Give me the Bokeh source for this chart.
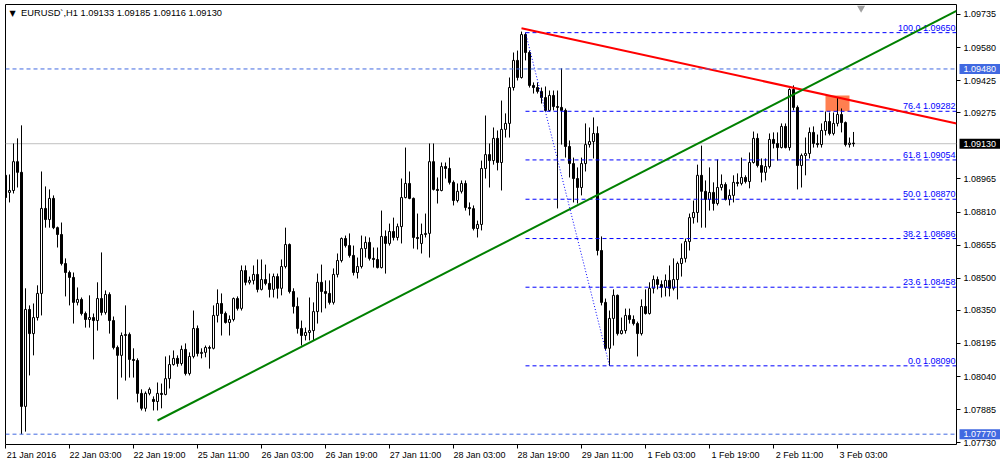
from bokeh.plotting import figure
from bokeh.models import (Range1d, FixedTicker, CustomJSTickFormatter, Label, ColumnDataSource,
                          Span, LinearAxis, GridBox, Plot)
from bokeh.core.properties import value
from bokeh.embed import file_html
from bokeh.resources import INLINE

# ---------------- data (EURUSD H1, bar index 0 = 21 Jan 2016 11:00) ----------------
opens = [
    1.08982, 1.08902, 1.08911, 1.09046, 1.08996, 1.07900, 1.08354, 1.08241, 1.08316, 1.08429,
    1.08827, 1.08775, 1.08874, 1.08737, 1.08705, 1.08569, 1.08527, 1.08504, 1.08387, 1.08401,
    1.08335, 1.08307, 1.08316, 1.08302, 1.08405, 1.08340, 1.08424, 1.08302, 1.08176, 1.08139,
    1.08232, 1.08237, 1.08120, 1.08115, 1.07961, 1.07891, 1.07961, 1.07933, 1.07923, 1.07961,
    1.07956, 1.08030, 1.08096, 1.08125, 1.08101, 1.08167, 1.08054, 1.08134, 1.08265, 1.08148,
    1.08153, 1.08176, 1.08172, 1.08326, 1.08382, 1.08335, 1.08293, 1.08307, 1.08405, 1.08359,
    1.08536, 1.08481, 1.08490, 1.08518, 1.08448, 1.08494, 1.08476, 1.08448, 1.08508, 1.08453,
    1.08555, 1.08658, 1.08438, 1.08368, 1.08265, 1.08232, 1.08246, 1.08255, 1.08344, 1.08481,
    1.08438, 1.08429, 1.08387, 1.08518, 1.08583, 1.08686, 1.08653, 1.08607, 1.08527, 1.08555,
    1.08639, 1.08668, 1.08593, 1.08588, 1.08550, 1.08696, 1.08663, 1.08719, 1.08691, 1.08742,
    1.08878, 1.08944, 1.08874, 1.08691, 1.08663, 1.08705, 1.08710, 1.09046, 1.08916, 1.08911,
    1.09023, 1.09014, 1.08949, 1.08864, 1.08907, 1.08944, 1.08831, 1.08826, 1.08733, 1.08752,
    1.09014, 1.09079, 1.09051, 1.09155, 1.09042, 1.09197, 1.09225, 1.09393, 1.09520, 1.09440,
    1.09641, 1.09557, 1.09403, 1.09393, 1.09375, 1.09346, 1.09286, 1.09356, 1.09304, 1.09300,
    1.09286, 1.09117, 1.09037, 1.08967, 1.08925, 1.09037, 1.09126, 1.09140, 1.09178, 1.08630,
    1.08387, 1.08172, 1.08312, 1.08420, 1.08241, 1.08255, 1.08326, 1.08307, 1.08288, 1.08241,
    1.08368, 1.08335, 1.08453, 1.08494, 1.08471, 1.08457, 1.08490, 1.08453, 1.08494, 1.08569,
    1.08593, 1.08672, 1.08784, 1.08808, 1.08982, 1.08907, 1.08869, 1.08902, 1.08850, 1.08925,
    1.08939, 1.08869, 1.08888, 1.08949, 1.08944, 1.08972, 1.08953, 1.09042, 1.09155, 1.09028,
    1.08996, 1.09023, 1.09150, 1.09131, 1.09112, 1.09211, 1.09112, 1.09384, 1.09300, 1.09028,
    1.09075, 1.09084, 1.09183, 1.09131, 1.09126, 1.09192, 1.09234, 1.09178, 1.09225, 1.09267,
    1.09229, 1.09126, 1.09133,
]
highs = [
    1.09028, 1.08986, 1.09131, 1.09155, 1.09216, 1.08453, 1.08373, 1.08382, 1.08467, 1.09000,
    1.08930, 1.08916, 1.08888, 1.08742, 1.08761, 1.08593, 1.08536, 1.08527, 1.08457, 1.08410,
    1.08344, 1.08420, 1.08335, 1.08481, 1.08621, 1.08443, 1.08434, 1.08321, 1.08185, 1.08246,
    1.08373, 1.08246, 1.08172, 1.08125, 1.07980, 1.07970, 1.07989, 1.07947, 1.08012, 1.08007,
    1.08134, 1.08139, 1.08162, 1.08139, 1.08185, 1.08195, 1.08153, 1.08349, 1.08279, 1.08172,
    1.08185, 1.08185, 1.08373, 1.08448, 1.08429, 1.08344, 1.08326, 1.08410, 1.08415, 1.08560,
    1.08560, 1.08508, 1.08560, 1.08588, 1.08588, 1.08564, 1.08522, 1.08522, 1.08522, 1.08588,
    1.08737, 1.08663, 1.08453, 1.08410, 1.08302, 1.08269, 1.08410, 1.08387, 1.08522, 1.08564,
    1.08490, 1.08490, 1.08546, 1.08616, 1.08691, 1.08700, 1.08710, 1.08653, 1.08597, 1.08700,
    1.08696, 1.08691, 1.08644, 1.08644, 1.08817, 1.08724, 1.08756, 1.08784, 1.08756, 1.08967,
    1.09112, 1.09000, 1.08878, 1.08803, 1.08756, 1.08803, 1.09131, 1.09131, 1.08972, 1.09042,
    1.09042, 1.09065, 1.08958, 1.08944, 1.08958, 1.08958, 1.08855, 1.08841, 1.08770, 1.09051,
    1.09262, 1.09131, 1.09206, 1.09192, 1.09332, 1.09272, 1.09440, 1.09557, 1.09566, 1.09655,
    1.09650, 1.09566, 1.09417, 1.09417, 1.09393, 1.09398, 1.09379, 1.09379, 1.09379, 1.09483,
    1.09295, 1.09145, 1.09065, 1.09019, 1.09065, 1.09225, 1.09206, 1.09253, 1.09211, 1.08696,
    1.08405, 1.08349, 1.08448, 1.08424, 1.08316, 1.08358, 1.08358, 1.08326, 1.08297, 1.08401,
    1.08448, 1.08481, 1.08513, 1.08508, 1.08490, 1.08518, 1.08560, 1.08593, 1.08578, 1.08663,
    1.08686, 1.08803, 1.08864, 1.09032, 1.09121, 1.08958, 1.09019, 1.08949, 1.09056, 1.08986,
    1.08949, 1.08916, 1.08982, 1.08991, 1.09065, 1.08982, 1.09089, 1.09187, 1.09178, 1.09061,
    1.09061, 1.09178, 1.09183, 1.09183, 1.09225, 1.09225, 1.09389, 1.09403, 1.09309, 1.09084,
    1.09159, 1.09206, 1.09211, 1.09173, 1.09225, 1.09281, 1.09276, 1.09276, 1.09346, 1.09295,
    1.09234, 1.09159, 1.09185,
]
lows = [
    1.08874, 1.08855, 1.08897, 1.08925, 1.07770, 1.07782, 1.08045, 1.08139, 1.08302, 1.08326,
    1.08737, 1.08737, 1.08730, 1.08644, 1.08560, 1.08415, 1.08373, 1.08288, 1.08373, 1.08326,
    1.08269, 1.08269, 1.08120, 1.08255, 1.08326, 1.08330, 1.08241, 1.08167, 1.07933, 1.08035,
    1.08021, 1.08035, 1.08035, 1.07919, 1.07881, 1.07876, 1.07952, 1.07881, 1.07881, 1.07891,
    1.07952, 1.07984, 1.08091, 1.08086, 1.08091, 1.08045, 1.08045, 1.08125, 1.08134, 1.08125,
    1.08130, 1.08077, 1.08167, 1.08293, 1.08232, 1.08288, 1.08232, 1.08298, 1.08349, 1.08349,
    1.08467, 1.08471, 1.08471, 1.08434, 1.08443, 1.08467, 1.08410, 1.08410, 1.08405, 1.08420,
    1.08546, 1.08429, 1.08335, 1.08241, 1.08185, 1.08209, 1.08209, 1.08209, 1.08288, 1.08340,
    1.08359, 1.08377, 1.08377, 1.08504, 1.08574, 1.08644, 1.08597, 1.08513, 1.08499, 1.08546,
    1.08597, 1.08583, 1.08550, 1.08546, 1.08546, 1.08522, 1.08653, 1.08677, 1.08677, 1.08663,
    1.08874, 1.08870, 1.08639, 1.08635, 1.08616, 1.08691, 1.08597, 1.08911, 1.08850, 1.08907,
    1.08967, 1.08939, 1.08841, 1.08855, 1.08897, 1.08817, 1.08794, 1.08724, 1.08691, 1.08724,
    1.08967, 1.08925, 1.09032, 1.09005, 1.08911, 1.09159, 1.09159, 1.09379, 1.09426, 1.09435,
    1.09520, 1.09393, 1.09365, 1.09365, 1.09318, 1.09281, 1.09281, 1.09286, 1.08827, 1.09126,
    1.09065, 1.08972, 1.08855, 1.08850, 1.08888, 1.09000, 1.09112, 1.09061, 1.08607, 1.08373,
    1.08162, 1.08090, 1.08185, 1.08232, 1.08237, 1.08241, 1.08288, 1.08279, 1.08134, 1.08232,
    1.08330, 1.08330, 1.08429, 1.08448, 1.08410, 1.08415, 1.08415, 1.08443, 1.08401, 1.08508,
    1.08574, 1.08630, 1.08756, 1.08761, 1.08737, 1.08737, 1.08817, 1.08817, 1.08841, 1.08911,
    1.08864, 1.08841, 1.08855, 1.08930, 1.08935, 1.08944, 1.08921, 1.09037, 1.09019, 1.08949,
    1.08958, 1.09014, 1.09108, 1.09051, 1.09108, 1.09108, 1.09098, 1.09286, 1.08916, 1.08925,
    1.08982, 1.09061, 1.09112, 1.09112, 1.09112, 1.09169, 1.09169, 1.09169, 1.09211, 1.09183,
    1.09117, 1.09112, 1.09116,
]
closes = [
    1.08878, 1.08911, 1.09046, 1.08996, 1.07900, 1.08354, 1.08241, 1.08316, 1.08429, 1.08827,
    1.08775, 1.08874, 1.08737, 1.08705, 1.08569, 1.08527, 1.08504, 1.08387, 1.08401, 1.08335,
    1.08307, 1.08316, 1.08302, 1.08405, 1.08340, 1.08424, 1.08302, 1.08176, 1.08139, 1.08232,
    1.08237, 1.08120, 1.08115, 1.07961, 1.07891, 1.07961, 1.07980, 1.07923, 1.07961, 1.07956,
    1.08030, 1.08096, 1.08125, 1.08101, 1.08167, 1.08054, 1.08134, 1.08265, 1.08148, 1.08153,
    1.08176, 1.08172, 1.08326, 1.08382, 1.08335, 1.08293, 1.08307, 1.08405, 1.08359, 1.08536,
    1.08481, 1.08490, 1.08518, 1.08448, 1.08494, 1.08476, 1.08448, 1.08508, 1.08453, 1.08555,
    1.08658, 1.08438, 1.08368, 1.08265, 1.08232, 1.08246, 1.08255, 1.08344, 1.08481, 1.08438,
    1.08429, 1.08387, 1.08518, 1.08583, 1.08686, 1.08653, 1.08607, 1.08527, 1.08555, 1.08639,
    1.08668, 1.08593, 1.08588, 1.08550, 1.08696, 1.08663, 1.08719, 1.08691, 1.08742, 1.08878,
    1.08944, 1.08874, 1.08691, 1.08686, 1.08705, 1.08710, 1.09046, 1.08916, 1.08911, 1.09023,
    1.09014, 1.08949, 1.08864, 1.08907, 1.08944, 1.08831, 1.08826, 1.08733, 1.08752, 1.09014,
    1.09079, 1.09051, 1.09155, 1.09042, 1.09197, 1.09225, 1.09393, 1.09520, 1.09440, 1.09641,
    1.09557, 1.09403, 1.09393, 1.09375, 1.09346, 1.09286, 1.09356, 1.09304, 1.09300, 1.09286,
    1.09117, 1.09037, 1.08967, 1.08925, 1.09037, 1.09126, 1.09140, 1.09178, 1.08630, 1.08387,
    1.08172, 1.08312, 1.08420, 1.08241, 1.08255, 1.08326, 1.08307, 1.08288, 1.08241, 1.08368,
    1.08335, 1.08453, 1.08494, 1.08471, 1.08457, 1.08490, 1.08453, 1.08494, 1.08569, 1.08593,
    1.08672, 1.08784, 1.08808, 1.08982, 1.08907, 1.08869, 1.08902, 1.08850, 1.08925, 1.08939,
    1.08869, 1.08888, 1.08949, 1.08944, 1.08972, 1.08953, 1.09042, 1.09155, 1.09028, 1.08996,
    1.09023, 1.09150, 1.09131, 1.09112, 1.09211, 1.09112, 1.09384, 1.09300, 1.09028, 1.09075,
    1.09084, 1.09183, 1.09131, 1.09126, 1.09192, 1.09234, 1.09178, 1.09225, 1.09267, 1.09229,
    1.09126, 1.09133, 1.09130,
]

time_tick_bars = [0, 16, 32, 48, 64, 80, 96, 112, 128, 144, 160, 176, 192, 208]
time_tick_labels = ["21 Jan 2016", "22 Jan 03:00", "22 Jan 19:00", "25 Jan 11:00", "26 Jan 03:00",
                    "26 Jan 19:00", "27 Jan 11:00", "28 Jan 03:00", "28 Jan 19:00", "29 Jan 11:00",
                    "1 Feb 03:00", "1 Feb 19:00", "2 Feb 11:00", "3 Feb 03:00"]
price_ticks = [1.09735, 1.09580, 1.09425, 1.09275, 1.08965, 1.08810, 1.08655, 1.08500,
               1.08350, 1.08195, 1.08040, 1.07885, 1.07730]

bid_price = 1.09130
hline_prices = [1.09480, 1.07770]
red_trend_bars = [129, 197]
red_trend_prices = [1.09671, 1.09392]
green_trend_bars = [38, 197]
green_trend_prices = [1.07834, 1.09361]
fib_bars = [130, 151]
fib_prices = [1.09650, 1.08090]
fib_levels = [0.0, 23.6, 38.2, 50.0, 61.8, 76.4, 100.0]
rect_bars = [205, 211]
rect_prices = [1.09282, 1.09356]
header_text = "EURUSD`,H1  1.09133 1.09185 1.09116 1.09130"

box_prices = [hline_prices[0], hline_prices[1], bid_price]
box_colors = ["#4169E1", "#4169E1", "black"]

# can the coloured price boxes be laid over the price scale?
CAN_OVERLAY = "frame_align" in Plot.properties()

# ---------------- main chart ----------------
FW, FH = 951, 440
BL, BT, BR, BB = 5, 4, 44, 22
x_start = 0.0
x_end = x_start + FW / 4.0
y_lo, y_hi = 1.077217, 1.097818
yr = Range1d(y_lo, y_hi)

p = figure(frame_width=FW, frame_height=FH,
           x_range=Range1d(x_start, x_end), y_range=yr,
           output_backend="svg", toolbar_location=None, y_axis_location="right",
           min_border_left=BL, min_border_top=BT, min_border_right=BR, min_border_bottom=BB,
           background_fill_color="white", border_fill_color="white")
p.grid.visible = False
p.outline_line_color = "black"
p.outline_line_width = 1

FONT = "Liberation Sans"

# time axis: tick marks only
p.xaxis.ticker = FixedTicker(ticks=time_tick_bars)
p.xaxis.major_label_overrides = {b: "" for b in time_tick_bars}
p.xaxis.major_label_text_font_size = "0px"
p.xaxis.major_label_standoff = 0
p.xaxis.minor_tick_line_color = None
p.xaxis.major_tick_in = 0
p.xaxis.major_tick_out = 4
p.xaxis.axis_line_color = None
p.xaxis.major_tick_line_color = "black"

# time axis labels, written to the right of each tick mark (MT4 style)
label_shift = 6.5
lab_axis = LinearAxis(ticker=FixedTicker(ticks=[b + label_shift for b in time_tick_bars]),
                      major_label_overrides={b + label_shift: t for b, t in zip(time_tick_bars, time_tick_labels)},
                      major_tick_in=0, major_tick_out=0, minor_tick_line_color=None,
                      axis_line_color=None, major_tick_line_color=None,
                      major_label_text_font=FONT, major_label_text_font_size="9px",
                      major_label_text_color="black", major_label_standoff=1)
p.add_layout(lab_axis, "below")

# price scale
scale_ticks = list(price_ticks) if CAN_OVERLAY else sorted(price_ticks + box_prices, reverse=True)
p.yaxis.ticker = FixedTicker(ticks=scale_ticks)
p.yaxis.formatter = CustomJSTickFormatter(code="return tick.toFixed(5);")
p.yaxis.minor_tick_line_color = None
p.yaxis.major_tick_in = 0
p.yaxis.major_tick_out = 4
p.yaxis.axis_line_color = None
p.yaxis.major_tick_line_color = "black"
p.yaxis.major_label_text_font = FONT
p.yaxis.major_label_text_font_size = "9px"
p.yaxis.major_label_text_color = "black"
p.yaxis.major_label_standoff = 3

# bid line (under candles)
p.add_layout(Span(location=bid_price, dimension="width", line_color="#C0C0C0",
                  line_width=1, level="underlay"))

# rectangle (background object)
p.quad(left=[rect_bars[0]], right=[rect_bars[1]], bottom=[rect_prices[0]], top=[rect_prices[1]],
       fill_color="#FF7F50", line_color=None)

# horizontal lines
for hp in hline_prices:
    p.add_layout(Span(location=hp, dimension="width", line_color="#4169E1",
                      line_width=1, line_dash="4 3"))

# candles
src = ColumnDataSource(dict(
    x=list(range(len(opens))), o=opens, h=highs, l=lows, c=closes,
    top=[max(o, c) for o, c in zip(opens, closes)],
    bottom=[min(o, c) for o, c in zip(opens, closes)],
    fill=["white" if c >= o else "black" for o, c in zip(opens, closes)],
))
p.segment(x0="x", y0="l", x1="x", y1="h", source=src, line_color="black", line_width=1)
p.vbar(x="x", width=0.5, top="top", bottom="bottom", source=src,
       fill_color="fill", line_color="black", line_width=1)

# fibonacci
f100, f0 = fib_prices[0], fib_prices[1]
lvl_prices = [f0 + (f100 - f0) * lv / 100.0 for lv in fib_levels]
p.segment(x0=[fib_bars[0]] * len(lvl_prices), x1=[x_end] * len(lvl_prices),
          y0=lvl_prices, y1=lvl_prices, line_color="#0000FF", line_width=1, line_dash="4 3")
p.line(x=fib_bars, y=fib_prices, line_color="#0000FF", line_width=1, line_dash="1 2")
p.text(x=[x_end] * len(lvl_prices), y=lvl_prices,
       text=[f"{lv:.1f} {pr:.5f}" for lv, pr in zip(fib_levels, lvl_prices)],
       text_align="right", text_baseline="bottom", x_offset=-1, y_offset=0,
       text_font=value(FONT), text_font_size=value("9px"), text_color="#0000FF")

# trend lines (rays to the right edge)
def ray(bars, prices):
    slope = (prices[1] - prices[0]) / (bars[1] - bars[0])
    return [bars[0], x_end], [prices[0], prices[0] + slope * (x_end - bars[0])]

rx, ry = ray(red_trend_bars, red_trend_prices)
p.line(rx, ry, line_color="#FF0000", line_width=2)
gx, gy = ray(green_trend_bars, green_trend_prices)
p.line(gx, gy, line_color="#008000", line_width=2)

# chart-shift marker
shift_bar, shift_price = 213.9, 1.09765
p.scatter(x=[shift_bar], y=[shift_price], marker="inverted_triangle", size=8,
          fill_color="#A0A0A0", line_color=None)

# header
p.add_layout(Label(x=1.0, y=1.09741, text="\u25BC", text_font="DejaVu Sans",
                   text_font_size="8px", text_color="black", text_baseline="middle"))
p.add_layout(Label(x=3.9, y=1.09741, text=header_text, text_font=FONT,
                   text_font_size="9.3px", text_color="black", text_baseline="middle"))

layout = p

# ---------------- transparent overlay over the price scale: coloured price boxes ----------------
if CAN_OVERLAY:
    q = figure(frame_width=BR, frame_height=FH,
               x_range=Range1d(0, BR), y_range=yr,
               output_backend="svg", toolbar_location=None,
               x_axis_location=None, y_axis_location=None,
               min_border_left=BL + FW, min_border_top=BT, min_border_right=0, min_border_bottom=BB,
               background_fill_color=None, border_fill_color=None, outline_line_color=None)
    q.grid.visible = False
    p.frame_align = False
    q.frame_align = False

    half_h = 5.0 * (y_hi - y_lo) / FH       # 5 px half height
    q.quad(left=3, right=BR, bottom=[bp - half_h for bp in box_prices],
           top=[bp + half_h for bp in box_prices], fill_color=box_colors, line_color=None)
    q.text(x=[7] * len(box_prices), y=box_prices, text=[f"{bp:.5f}" for bp in box_prices],
           text_align="left", text_baseline="middle", text_color="white",
           text_font=value(FONT), text_font_size=value("9px"))

    layout = GridBox(children=[(p, 0, 0), (q, 0, 0)])

open("out.html", "w").write(file_html(layout, INLINE))
